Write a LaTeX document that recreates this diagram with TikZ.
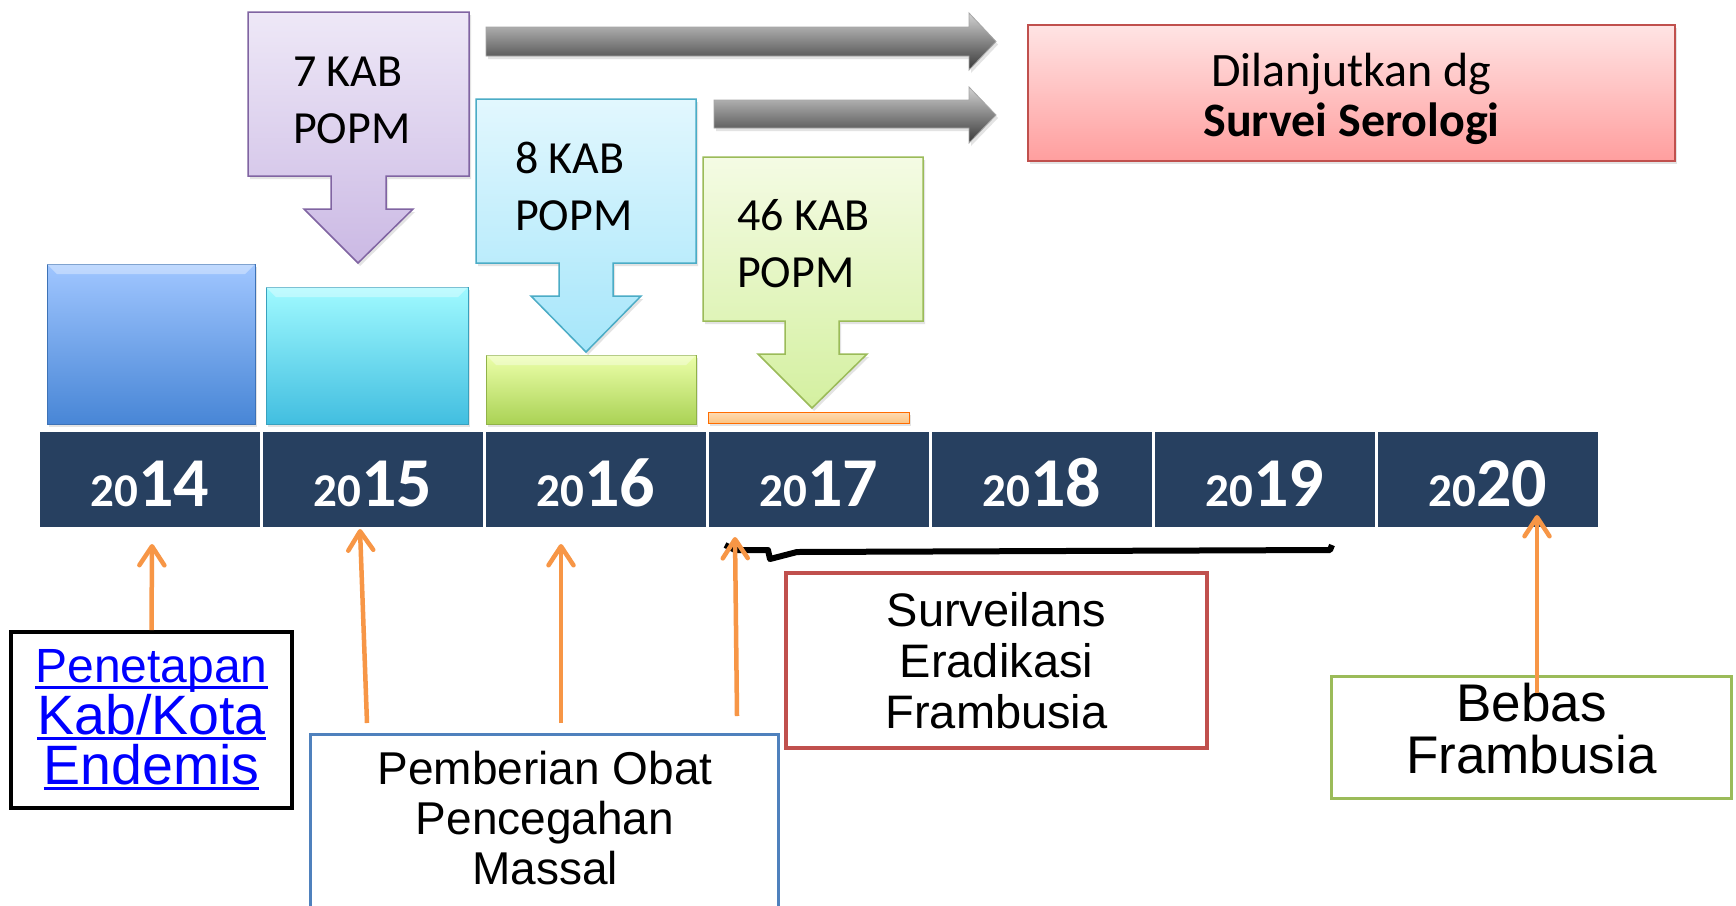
\documentclass[tikz,border=0pt]{standalone}
\usepackage{fontspec}
\setmainfont{Carlito}
\newfontfamily\arialfont{Liberation Sans}
\usetikzlibrary{
  arrows.meta,
  shadows
}
\definecolor{navy}{RGB}{39,64,96}
\definecolor{orangeln}{RGB}{247,150,70}
\definecolor{purpleln}{RGB}{128,100,162}
\definecolor{purplelt}{RGB}{238,232,247}
\definecolor{purpledk}{RGB}{203,185,228}
\definecolor{aqualn}{RGB}{75,172,198}
\definecolor{aqualt}{RGB}{226,247,254}
\definecolor{aquadk}{RGB}{166,230,250}
\definecolor{limeln}{RGB}{155,187,89}
\definecolor{limelt}{RGB}{244,251,228}
\definecolor{limedk}{RGB}{212,240,160}
\definecolor{redln}{RGB}{192,80,77}
\definecolor{pinklt}{RGB}{255,228,228}
\definecolor{pinkdk}{RGB}{255,158,158}
\definecolor{blueln}{RGB}{79,129,189}
\definecolor{linkblue}{RGB}{0,0,255}
\definecolor{barbluetop}{RGB}{160,198,255}
\definecolor{barbluebot}{RGB}{72,134,214}
\definecolor{baraquatop}{RGB}{160,250,255}
\definecolor{baraquabot}{RGB}{66,190,224}
\definecolor{barlimetop}{RGB}{236,255,170}
\definecolor{barlimebot}{RGB}{170,210,85}
\definecolor{barorange}{RGB}{252,196,130}
\newcommand{\yr}[1]{{\fontsize{47}{47}\selectfont 20}{\fontsize{70}{70}\selectfont #1}}
\newcommand{\ulnk}[1]{\setbox0\hbox{#1}\rlap{\rule[-6pt]{\wd0}{3pt}}\box0}

\begin{document}
\begin{tikzpicture}[x=1pt, y=-1pt,
  every node/.style={inner sep=0pt},
  softshadow/.style={drop shadow={opacity=0.22, shadow xshift=2pt, shadow yshift=-3pt}},
  callout/.style={line width=1.5pt, softshadow},
  calltext/.style={anchor=west, align=left, font=\fontsize{46}{57}\selectfont},
  bar/.style={line width=1pt, softshadow},
  bevel/.style={fill=white, opacity=0.35},
  grayarrow/.style={draw=black!35, line width=0.8pt, top color=black!18, bottom color=black!78, middle color=black!48, softshadow},
  yearcell/.style={fill=navy, text=white, font=\bfseries, minimum width=220pt, minimum height=95pt, text height=53pt, text depth=0pt},
  labelbox/.style={draw, fill=white, line width=3.5pt, align=center},
  orarrow/.style={draw=orangeln, line width=4.5pt, -{Straight Barb[length=19pt, width=25pt, round]}}
]
  \fill[white] (0,0) rectangle (1736,905);
  \useasboundingbox (0,0) rectangle (1736,905);

  % bars above the years
  \draw[bar, draw=barbluebot!85!black, top color=barbluetop, bottom color=barbluebot] (47,264) rectangle (255,424);
  \fill[bevel] (47,264) -- (255,264) -- (245,274) -- (57,274) -- cycle;
  \draw[bar, draw=baraquabot!85!black, top color=baraquatop, bottom color=baraquabot] (266,287) rectangle (468,424);
  \fill[bevel] (266,287) -- (468,287) -- (458,297) -- (276,297) -- cycle;
  \draw[bar, draw=barlimebot!85!black, top color=barlimetop, bottom color=barlimebot] (486,355) rectangle (696,424);
  \fill[bevel] (486,355) -- (696,355) -- (686,365) -- (496,365) -- cycle;
  \draw[bar, draw=orange!85!red, top color=barorange!60, bottom color=barorange] (708,412) rectangle (909,423);

  % callouts
  \draw[callout, draw=purpleln, top color=purplelt, bottom color=purpledk]
    (248,12) -- (469,12) -- (469,176) -- (386,176) -- (386,209) -- (413,209) -- (358,263)
    -- (304,209) -- (331,209) -- (331,176) -- (248,176) -- cycle;
  \node[calltext] (kab7) at (293,100) {7 KAB\\POPM};
  \draw[callout, draw=aqualn, top color=aqualt, bottom color=aquadk]
    (476,99) -- (696,99) -- (696,263) -- (613,263) -- (613,296) -- (641,296) -- (586,352)
    -- (531,296) -- (559,296) -- (559,263) -- (476,263) -- cycle;
  \node[calltext] (kab8) at (515,186) {8 KAB\\POPM};
  \draw[callout, draw=limeln, top color=limelt, bottom color=limedk]
    (703,157) -- (923,157) -- (923,321) -- (839,321) -- (839,354) -- (867,354) -- (812,408)
    -- (758,354) -- (785,354) -- (785,321) -- (703,321) -- cycle;
  \node[calltext] (kab46) at (737,244) {46 KAB\\POPM};

  % grey arrows and serology box
  \draw[grayarrow] (486,27) -- (969,27) -- (969,13) -- (996,41.5) -- (969,70) -- (969,56) -- (486,56) -- cycle;
  \draw[grayarrow] (714,100) -- (969,100) -- (969,87) -- (996,115) -- (969,143) -- (969,128) -- (714,128) -- cycle;
  \node[draw=redln, line width=1.5pt, top color=pinklt, bottom color=pinkdk, minimum width=647pt,
    minimum height=136pt, softshadow] (sero) at (1351.5,93) {};
  \node[align=center, font=\fontsize{48}{50}\selectfont] (serotext) at (1351.5,99)
    {Dilanjutkan dg\\\textbf{Survei Serologi}};

  % years
  \node[yearcell] (y2014) at (150,479.5) {\yr{14}};
  \node[yearcell] (y2015) at (373,479.5) {\yr{15}};
  \node[yearcell] (y2016) at (596,479.5) {\yr{16}};
  \node[yearcell] (y2017) at (819,479.5) {\yr{17}};
  \node[yearcell] (y2018) at (1042,479.5) {\yr{18}};
  \node[yearcell] (y2019) at (1265,479.5) {\yr{19}};
  \node[yearcell] (y2020) at (1488,479.5) {\yr{20}};

  % boxes below
  \node[labelbox, draw=black, line width=4pt, minimum width=281pt, minimum height=176pt,
    text=linkblue, font=\arialfont\fontsize{48}{50}\selectfont]
    (pen) at (151.5,720) {\ulnk{Penetapan}\\{\fontsize{55.5}{50}\selectfont\ulnk{Kab/Kota}}\\{\fontsize{55.5}{50}\selectfont\ulnk{Endemis}}};
  \node[labelbox, draw=blueln, line width=3pt, minimum width=468pt, minimum height=200pt, anchor=north]
    (pob) at (544,733) {};
  \node[align=center, font=\arialfont\fontsize{46}{50}\selectfont] (pobtext) at (545,818)
    {Pemberian Obat\\Pencegahan\\Massal};
  \node[labelbox, draw=redln, minimum width=421pt, minimum height=175pt,
    font=\arialfont\fontsize{47}{51}\selectfont]
    (sev) at (996.5,660.5) {Surveilans\\Eradikasi\\Frambusia};
  \node[labelbox, draw=limeln, minimum width=400pt, minimum height=122pt]
    (bebas) at (1531.5,737.5) {};
  \node[align=center, font=\arialfont\fontsize{53}{52}\selectfont] (bebastext) at (1531.5,729)
    {Bebas\\Frambusia};

  % bracket
  \draw[line width=6pt, line join=round] (725,545) -- (735,550) -- (768,550) -- (770,559)
    -- (797,552) -- (1330,550) -- (1332,545);

  % arrows to the years
  \coordinate (t2014) at (152,544);
  \coordinate (b2015) at (367,723);
  \coordinate (t2015) at (360,529);
  \coordinate (b2016) at (561,723);
  \coordinate (t2016) at (561,544);
  \coordinate (b2017) at (737,716);
  \coordinate (t2017) at (735,537);
  \coordinate (b2020) at (1537,693);
  \coordinate (t2020) at (1537,515);
  \draw[orarrow] (pen.north) -- (t2014);
  \draw[orarrow] (b2015) -- (t2015);
  \draw[orarrow] (b2016) -- (t2016);
  \draw[orarrow] (b2017) -- (t2017);
  \draw[orarrow] (b2020) -- (t2020);
\end{tikzpicture}
\end{document}
